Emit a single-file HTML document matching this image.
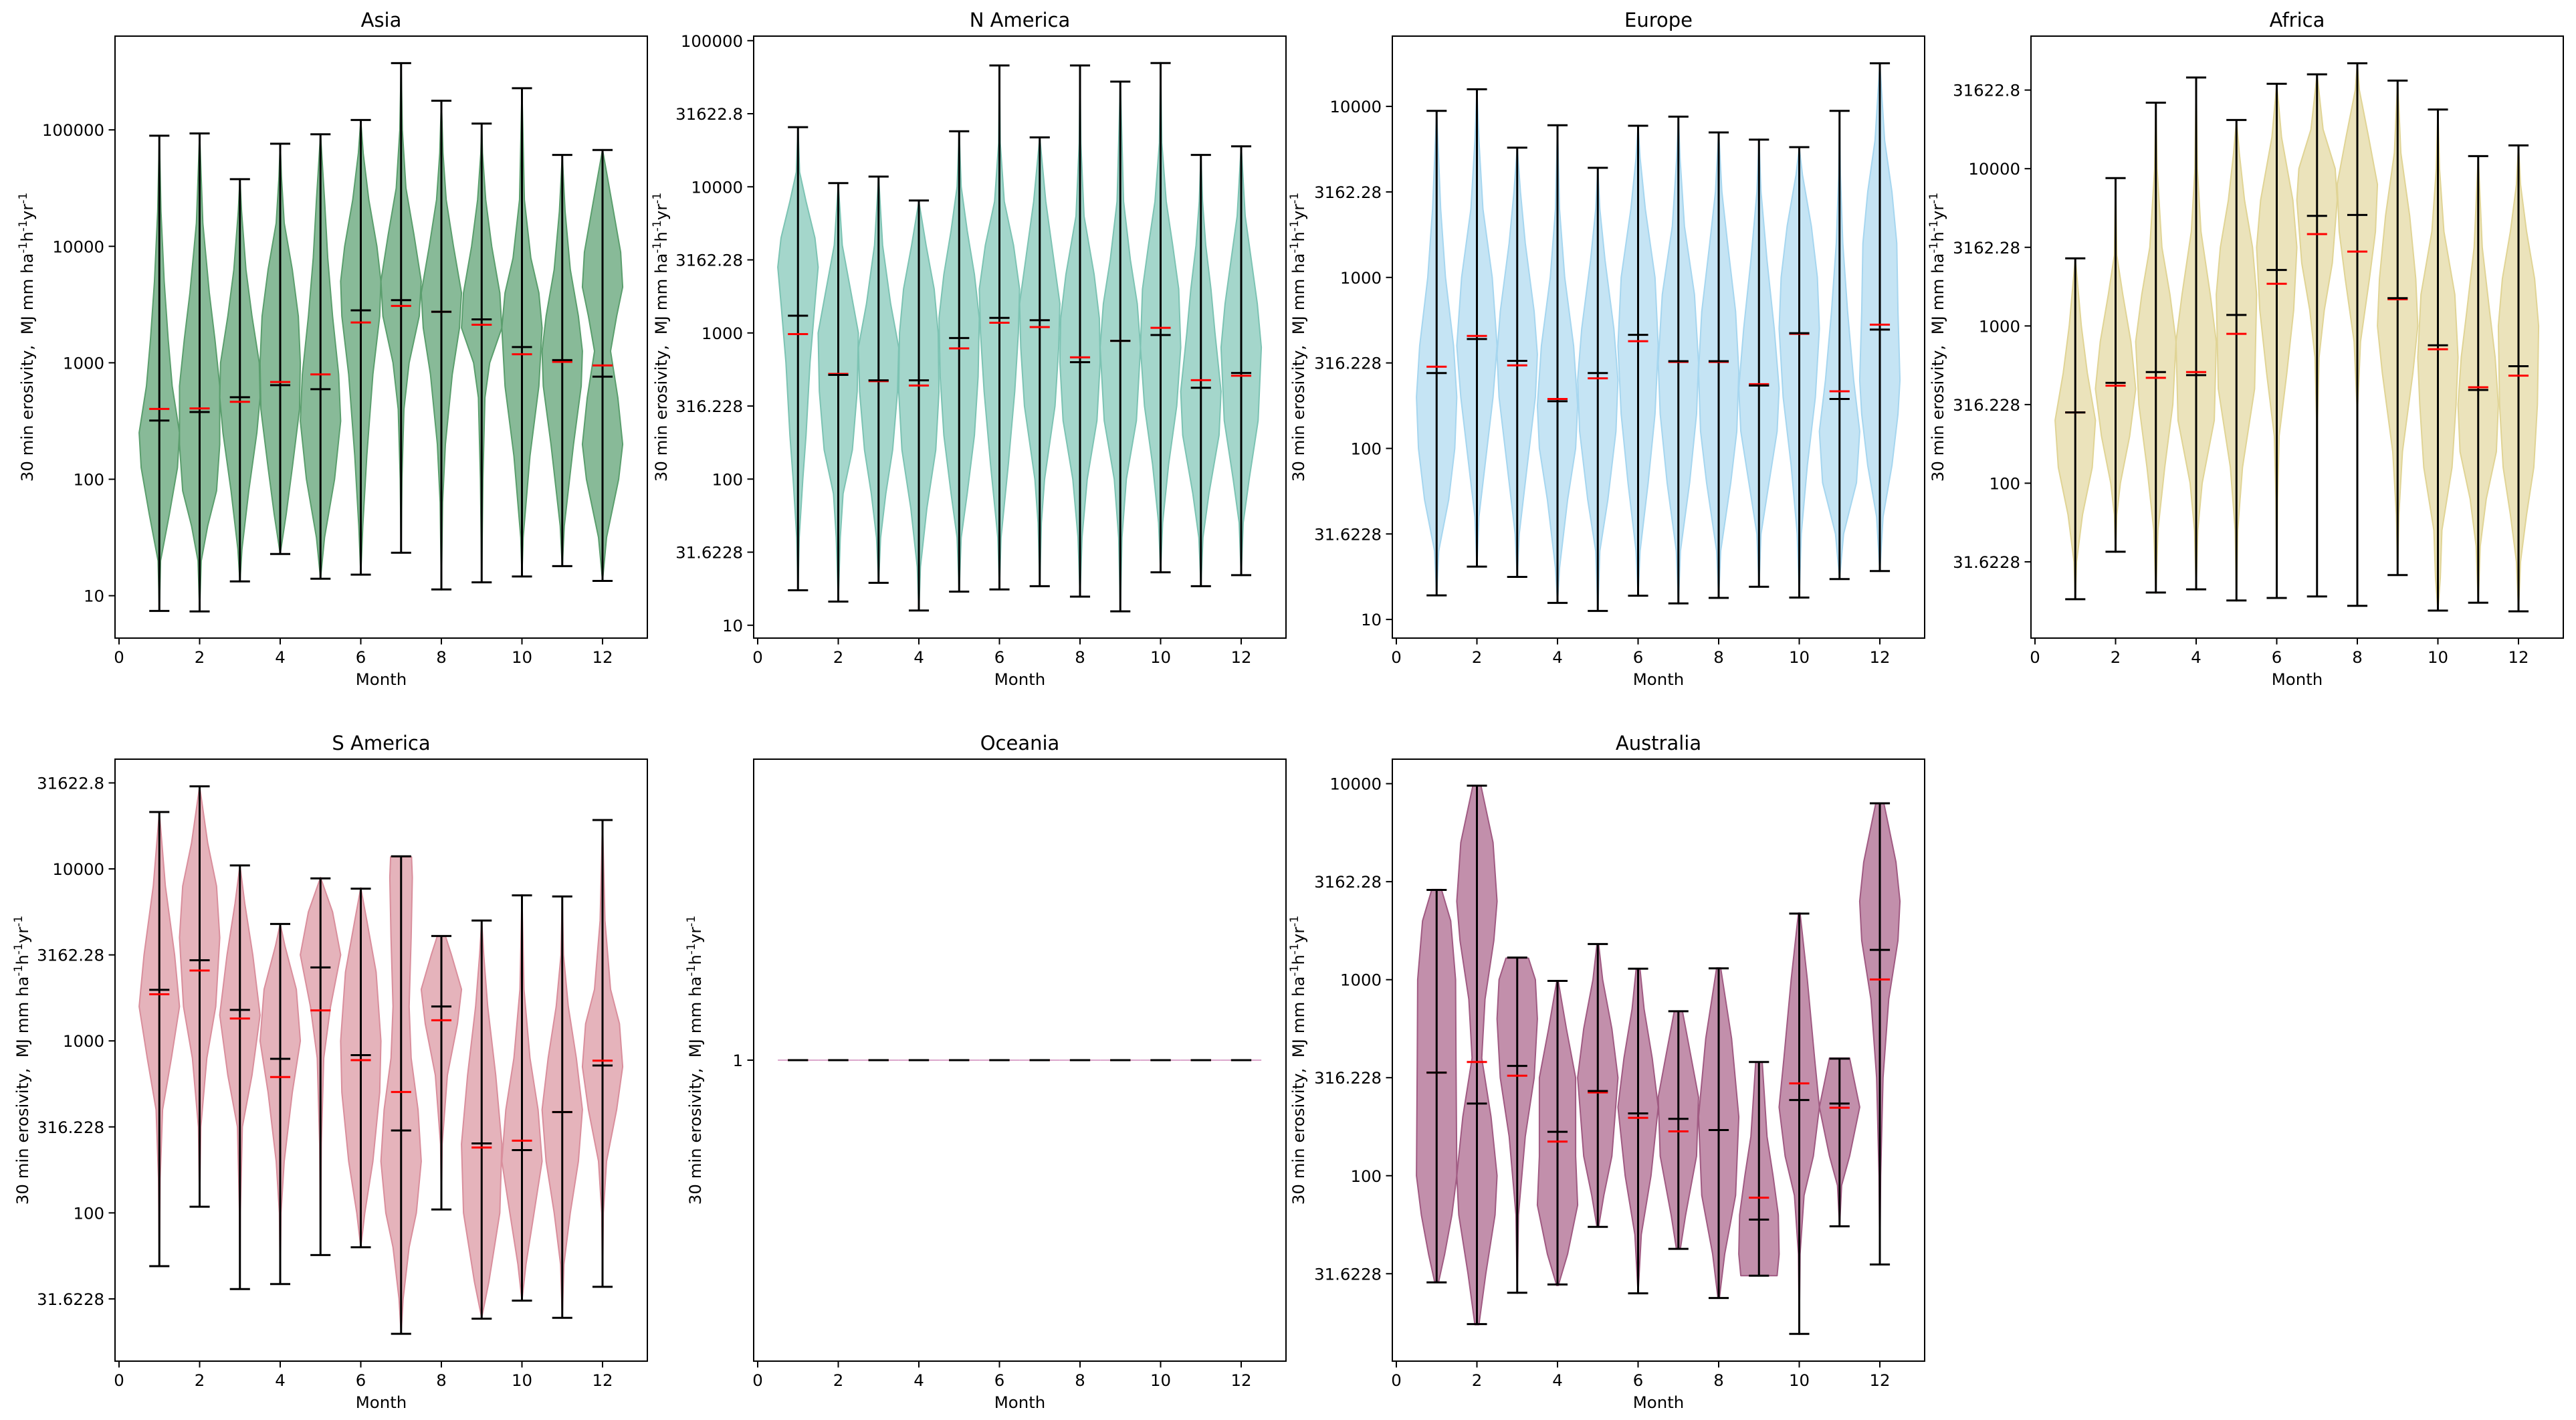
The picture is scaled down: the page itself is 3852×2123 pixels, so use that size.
<!DOCTYPE html>
<html><head><meta charset="utf-8"><title>Monthly 30 min erosivity by region</title>
<style>html,body{margin:0;padding:0;background:#fff;}svg{display:block;}</style></head>
<body>
<svg id="fig" xmlns="http://www.w3.org/2000/svg" width="3852" height="2123" viewBox="0 0 3852 2123" font-family="DejaVu Sans, Liberation Sans, sans-serif"></svg>
<script>
// ===== DATA (log10 of erosivity, MJ mm ha-1 h-1 yr-1) =====
const months = [1,2,3,4,5,6,7,8,9,10,11,12];
const xTickValues = [0,2,4,6,8,10,12];

const asiaMaxLog  = [4.95,4.969,4.577,4.881,4.962,5.085,5.573,5.25,5.054,5.358,4.785,4.827];
const asiaMinLog  = [0.869,0.865,1.123,1.358,1.146,1.181,1.369,1.054,1.115,1.165,1.254,1.127];
const asiaMedLog  = [2.504,2.577,2.704,2.808,2.773,3.45,3.538,3.438,3.373,3.135,3.023,2.881];
const asiaMeanLog = [2.604,2.608,2.665,2.835,2.9,3.346,3.488,3.438,3.327,3.073,3.008,2.977];
const asiaDensity = [
 [[0.87,0],[1.3,0.03],[1.7,0.25],[2.1,0.45],[2.4,0.5],[2.8,0.32],[3.2,0.22],[3.7,0.12],[4.3,0.04],[4.95,0]],
 [[0.87,0],[1.3,0.04],[1.6,0.2],[1.9,0.42],[2.3,0.5],[2.8,0.5],[3.2,0.38],[3.6,0.24],[4.2,0.08],[4.97,0]],
 [[1.12,0],[1.4,0.05],[1.9,0.22],[2.4,0.42],[2.7,0.5],[3.0,0.48],[3.4,0.3],[3.8,0.15],[4.3,0.04],[4.58,0]],
 [[1.36,0],[1.7,0.15],[2.1,0.3],[2.6,0.48],[3.0,0.5],[3.4,0.45],[3.8,0.3],[4.2,0.1],[4.6,0.03],[4.88,0]],
 [[1.15,0],[1.5,0.1],[2.0,0.35],[2.5,0.5],[2.9,0.45],[3.4,0.3],[3.9,0.18],[4.4,0.1],[4.96,0]],
 [[1.18,0],[1.6,0.05],[2.2,0.15],[2.9,0.3],[3.4,0.47],[3.7,0.5],[4.0,0.4],[4.4,0.2],[4.8,0.06],[5.08,0]],
 [[1.37,0],[2.0,0.02],[2.6,0.07],[3.0,0.2],[3.4,0.45],[3.7,0.5],[4.1,0.32],[4.5,0.12],[5.0,0.03],[5.57,0]],
 [[1.05,0],[1.8,0.03],[2.3,0.1],[2.9,0.27],[3.3,0.45],[3.6,0.5],[4.0,0.3],[4.4,0.12],[4.8,0.04],[5.25,0]],
 [[1.12,0],[2.0,0.03],[2.7,0.08],[3.0,0.2],[3.3,0.5],[3.6,0.45],[4.0,0.25],[4.4,0.1],[4.8,0.02],[5.05,0]],
 [[1.17,0],[1.5,0.03],[2.2,0.2],[2.8,0.42],[3.3,0.5],[3.6,0.42],[3.9,0.22],[4.4,0.06],[5.36,0]],
 [[1.25,0],[1.6,0.05],[2.3,0.28],[2.8,0.47],[3.1,0.5],[3.4,0.4],[3.8,0.2],[4.3,0.07],[4.78,0]],
 [[1.13,0],[1.5,0.1],[2.0,0.4],[2.3,0.5],[2.7,0.38],[3.1,0.2],[3.4,0.35],[3.65,0.5],[3.95,0.45],[4.4,0.22],[4.83,0]]
];
const asiaTickLogs = [1,2,3,4,5];
const asiaTickLabels = ["10","100","1000","10000","100000"];

const naMaxLog  = [4.408,4.025,4.07,3.906,4.38,4.83,4.338,4.83,4.72,4.847,4.218,4.277];
const naMinLog  = [1.239,1.162,1.29,1.101,1.23,1.245,1.267,1.196,1.095,1.362,1.267,1.343];
const naMedLog  = [3.118,2.713,2.676,2.676,2.965,3.103,3.087,2.8,2.946,2.986,2.625,2.726];
const naMeanLog = [2.992,2.72,2.67,2.64,2.894,3.07,3.04,2.833,2.946,3.035,2.677,2.707];
const naDensity = [
 [[1.24,0],[1.6,0.03],[2.0,0.12],[2.3,0.2],[2.8,0.3],[3.2,0.42],[3.45,0.5],[3.65,0.42],[3.9,0.2],[4.1,0.04],[4.41,0]],
 [[1.16,0],[1.6,0.05],[1.9,0.12],[2.2,0.35],[2.6,0.47],[3.0,0.5],[3.3,0.3],[3.6,0.1],[4.02,0]],
 [[1.29,0],[1.6,0.05],[1.9,0.18],[2.2,0.35],[2.6,0.47],[2.9,0.5],[3.2,0.3],[3.6,0.1],[4.07,0]],
 [[1.1,0],[1.4,0.04],[1.8,0.2],[2.2,0.42],[2.6,0.5],[3.0,0.48],[3.3,0.38],[3.6,0.18],[3.9,0]],
 [[1.23,0],[1.6,0.05],[1.9,0.2],[2.3,0.38],[2.7,0.47],[3.1,0.5],[3.4,0.38],[3.7,0.2],[4.0,0.05],[4.38,0]],
 [[1.25,0],[1.6,0.04],[2.1,0.22],[2.6,0.38],[3.0,0.47],[3.3,0.5],[3.6,0.35],[3.9,0.12],[4.3,0.02],[4.83,0]],
 [[1.27,0],[1.7,0.04],[2.0,0.12],[2.5,0.38],[2.9,0.47],[3.2,0.5],[3.5,0.35],[3.9,0.15],[4.34,0]],
 [[1.2,0],[1.6,0.05],[2.0,0.18],[2.4,0.42],[2.8,0.5],[3.1,0.48],[3.4,0.35],[3.8,0.1],[4.3,0.02],[4.83,0]],
 [[1.1,0],[1.6,0.04],[2.0,0.15],[2.4,0.4],[2.9,0.5],[3.2,0.42],[3.5,0.25],[3.9,0.08],[4.72,0]],
 [[1.36,0],[1.7,0.05],[2.1,0.2],[2.5,0.4],[2.9,0.5],[3.3,0.45],[3.6,0.3],[3.9,0.14],[4.3,0.03],[4.85,0]],
 [[1.27,0],[1.6,0.05],[1.9,0.2],[2.3,0.45],[2.6,0.5],[3.0,0.35],[3.3,0.25],[3.6,0.12],[3.9,0.04],[4.22,0]],
 [[1.34,0],[1.7,0.05],[2.0,0.2],[2.4,0.42],[2.9,0.5],[3.2,0.4],[3.5,0.25],[3.8,0.1],[4.28,0]]
];
const halfDecadeLogs = [1,1.5,2,2.5,3,3.5,4,4.5,5];
const halfDecadeLabels = ["10","31.6228","100","316.228","1000","3162.28","10000","31622.8","100000"];

const euMaxLog  = [3.974,4.1,3.759,3.89,3.641,3.887,3.94,3.848,3.806,3.762,3.974,4.252];
const euMinLog  = [1.141,1.309,1.249,1.097,1.05,1.139,1.094,1.126,1.191,1.128,1.236,1.283];
const euMedLog  = [2.441,2.64,2.512,2.276,2.441,2.664,2.51,2.51,2.368,2.674,2.289,2.695];
const euMeanLog = [2.478,2.658,2.486,2.289,2.41,2.627,2.506,2.506,2.376,2.67,2.334,2.724];
const euDensity = [
 [[1.14,0],[1.4,0.05],[1.7,0.3],[2.0,0.45],[2.3,0.5],[2.6,0.42],[3.0,0.22],[3.4,0.1],[3.8,0.03],[3.97,0]],
 [[1.31,0],[1.6,0.05],[2.0,0.25],[2.3,0.4],[2.6,0.5],[3.0,0.38],[3.4,0.15],[3.8,0.05],[4.1,0]],
 [[1.25,0],[1.5,0.05],[1.9,0.25],[2.3,0.45],[2.55,0.5],[2.8,0.42],[3.2,0.2],[3.5,0.08],[3.76,0]],
 [[1.1,0],[1.3,0.05],[1.7,0.25],[2.0,0.45],[2.25,0.5],[2.6,0.4],[3.0,0.18],[3.4,0.05],[3.89,0]],
 [[1.05,0],[1.4,0.05],[1.7,0.25],[2.1,0.45],[2.4,0.5],[2.7,0.4],[3.1,0.18],[3.4,0.05],[3.64,0]],
 [[1.14,0],[1.4,0.05],[1.8,0.25],[2.2,0.42],[2.6,0.5],[3.0,0.42],[3.4,0.18],[3.7,0.05],[3.89,0]],
 [[1.09,0],[1.4,0.05],[1.8,0.28],[2.2,0.45],[2.5,0.5],[2.9,0.4],[3.3,0.15],[3.7,0.04],[3.94,0]],
 [[1.13,0],[1.4,0.05],[1.8,0.3],[2.1,0.45],[2.45,0.5],[2.8,0.42],[3.2,0.22],[3.5,0.08],[3.85,0]],
 [[1.19,0],[1.5,0.05],[1.8,0.25],[2.1,0.45],[2.35,0.5],[2.7,0.38],[3.1,0.2],[3.5,0.05],[3.81,0]],
 [[1.13,0],[1.5,0.05],[1.9,0.2],[2.3,0.4],[2.7,0.5],[3.0,0.45],[3.3,0.3],[3.6,0.08],[3.76,0]],
 [[1.24,0],[1.5,0.1],[1.8,0.42],[2.1,0.5],[2.4,0.35],[2.8,0.2],[3.2,0.08],[3.6,0.02],[3.97,0]],
 [[1.28,0],[1.6,0.08],[1.9,0.3],[2.2,0.45],[2.4,0.5],[2.8,0.45],[3.2,0.42],[3.5,0.3],[3.8,0.12],[4.25,0]]
];

const afMaxLog  = [3.43,3.94,4.42,4.58,4.31,4.54,4.6,4.67,4.56,4.376,4.08,4.148];
const afMinLog  = [1.262,1.564,1.305,1.325,1.254,1.27,1.28,1.22,1.416,1.19,1.24,1.185];
const afMedLog  = [2.45,2.638,2.707,2.687,3.07,3.356,3.7,3.706,3.177,2.877,2.593,2.744];
const afMeanLog = [2.45,2.62,2.67,2.707,2.95,3.268,3.584,3.473,3.17,2.852,2.61,2.684];
const afDensity = [
 [[1.26,0],[1.5,0.03],[1.8,0.18],[2.1,0.42],[2.4,0.5],[2.7,0.3],[3.0,0.15],[3.43,0]],
 [[1.56,0],[1.8,0.03],[2.0,0.12],[2.3,0.35],[2.6,0.5],[2.9,0.38],[3.2,0.18],[3.45,0.03],[3.94,0]],
 [[1.3,0],[1.7,0.05],[2.1,0.22],[2.5,0.42],[2.9,0.5],[3.2,0.35],[3.5,0.15],[4.0,0.03],[4.42,0]],
 [[1.32,0],[1.7,0.04],[2.0,0.15],[2.4,0.45],[2.9,0.5],[3.2,0.35],[3.6,0.12],[4.0,0.03],[4.58,0]],
 [[1.25,0],[1.7,0.03],[2.1,0.15],[2.6,0.45],[3.2,0.5],[3.5,0.4],[3.8,0.2],[4.1,0.07],[4.31,0]],
 [[1.27,0],[1.9,0.02],[2.3,0.06],[2.7,0.25],[3.1,0.42],[3.5,0.5],[3.8,0.4],[4.2,0.12],[4.54,0]],
 [[1.28,0],[2.4,0.01],[2.8,0.05],[3.1,0.18],[3.4,0.38],[3.8,0.5],[4.0,0.45],[4.25,0.15],[4.6,0]],
 [[1.22,0],[2.5,0.01],[2.9,0.08],[3.3,0.3],[3.6,0.45],[3.9,0.5],[4.2,0.28],[4.5,0.05],[4.67,0]],
 [[1.42,0],[1.8,0.03],[2.2,0.12],[2.7,0.38],[3.0,0.5],[3.3,0.45],[3.7,0.3],[4.1,0.08],[4.56,0]],
 [[1.19,0],[1.4,0.06],[1.7,0.1],[2.1,0.35],[2.5,0.45],[2.8,0.5],[3.2,0.42],[3.6,0.15],[4.0,0.04],[4.38,0]],
 [[1.24,0],[1.6,0.05],[1.9,0.2],[2.2,0.45],[2.5,0.5],[2.8,0.42],[3.1,0.28],[3.5,0.1],[4.08,0]],
 [[1.19,0],[1.5,0.05],[1.8,0.2],[2.1,0.38],[2.5,0.47],[3.0,0.5],[3.3,0.4],[3.6,0.2],[3.9,0.05],[4.15,0]]
];

const saMaxLog  = [4.331,4.48,4.02,3.68,3.945,3.885,4.073,3.61,3.70,3.846,3.84,4.284];
const saMinLog  = [1.69,2.036,1.557,1.586,1.755,1.80,1.297,2.02,1.385,1.49,1.39,1.57];
const saMedLog  = [3.297,3.469,3.18,2.896,3.427,2.917,2.479,3.2,2.404,2.365,2.586,2.857];
const saMeanLog = [3.271,3.409,3.13,2.79,3.177,2.888,2.703,3.12,2.38,2.42,2.586,2.885];
const saDensity = [
 [[1.69,0],[2.2,0.02],[2.6,0.08],[2.9,0.3],[3.2,0.5],[3.5,0.38],[3.9,0.15],[4.33,0]],
 [[2.04,0],[2.5,0.03],[2.9,0.18],[3.2,0.4],[3.6,0.5],[3.9,0.42],[4.15,0.2],[4.48,0]],
 [[1.56,0],[2.0,0.01],[2.5,0.06],[2.8,0.3],[3.15,0.5],[3.5,0.32],[3.8,0.12],[4.02,0]],
 [[1.59,0],[2.0,0.02],[2.3,0.1],[2.7,0.3],[3.0,0.5],[3.3,0.4],[3.55,0.12],[3.68,0]],
 [[1.76,0],[2.4,0.02],[2.9,0.08],[3.2,0.25],[3.5,0.5],[3.75,0.3],[3.95,0]],
 [[1.8,0],[2.0,0.1],[2.3,0.3],[2.7,0.47],[3.0,0.5],[3.4,0.38],[3.7,0.15],[3.89,0]],
 [[1.3,0],[1.5,0.05],[1.8,0.2],[2.0,0.38],[2.3,0.5],[2.6,0.42],[2.9,0.25],[3.2,0.2],[3.6,0.25],[3.95,0.28],[4.07,0.26]],
 [[2.02,0],[2.4,0.02],[2.8,0.15],[3.1,0.4],[3.3,0.5],[3.5,0.25],[3.61,0.1]],
 [[1.39,0],[1.6,0.18],[2.0,0.45],[2.4,0.5],[2.8,0.35],[3.2,0.15],[3.5,0.05],[3.7,0]],
 [[1.49,0],[1.7,0.1],[2.0,0.3],[2.3,0.5],[2.6,0.4],[2.9,0.2],[3.3,0.05],[3.85,0]],
 [[1.39,0],[1.7,0.04],[2.0,0.2],[2.3,0.4],[2.6,0.5],[2.9,0.35],[3.2,0.15],[3.5,0.03],[3.84,0]],
 [[1.57,0],[2.0,0.02],[2.3,0.1],[2.6,0.35],[2.85,0.5],[3.1,0.42],[3.3,0.2],[3.7,0.06],[4.28,0]]
];

const ocMaxLog  = [0,0,0,0,0,0,0,0,0,0,0,0];
const ocMinLog  = [0,0,0,0,0,0,0,0,0,0,0,0];
const ocMedLog  = [0,0,0,0,0,0,0,0,0,0,0,0];
const ocMeanLog = [0,0,0,0,0,0,0,0,0,0,0,0];
const ocTickLogs = [0];
const ocTickLabels = ["1"];

const auMaxLog  = [3.458,3.99,3.113,2.994,3.182,3.056,2.839,3.058,2.58,3.337,2.597,3.9];
const auMinLog  = [1.456,1.243,1.403,1.445,1.739,1.4,1.627,1.376,1.49,1.193,1.742,1.547];
const auMedLog  = [2.526,2.368,2.56,2.224,2.432,2.318,2.29,2.233,1.776,2.386,2.368,3.152];
const auMeanLog = [2.526,2.58,2.51,2.174,2.425,2.295,2.226,2.233,1.888,2.471,2.347,3.001];
const auDensity = [
 [[1.46,0.05],[1.6,0.2],[1.8,0.38],[2.0,0.5],[2.6,0.48],[3.0,0.47],[3.3,0.35],[3.46,0.12]],
 [[1.24,0.05],[1.5,0.22],[1.8,0.45],[2.0,0.5],[2.3,0.35],[2.6,0.12],[2.9,0.2],[3.2,0.42],[3.4,0.5],[3.7,0.4],[3.99,0.1]],
 [[1.4,0],[1.8,0.03],[2.2,0.2],[2.5,0.42],[2.8,0.5],[3.0,0.45],[3.11,0.28]],
 [[1.44,0.02],[1.6,0.25],[1.85,0.5],[2.1,0.45],[2.5,0.45],[2.75,0.22],[2.99,0.02]],
 [[1.74,0.02],[1.9,0.15],[2.1,0.35],[2.5,0.5],[2.75,0.35],[3.0,0.12],[3.18,0.02]],
 [[1.4,0],[1.7,0.08],[2.0,0.32],[2.35,0.5],[2.6,0.35],[2.85,0.15],[3.05,0.05]],
 [[1.63,0.05],[1.8,0.18],[2.1,0.45],[2.4,0.5],[2.6,0.32],[2.84,0.1]],
 [[1.38,0.02],[1.6,0.15],[1.9,0.42],[2.3,0.5],[2.7,0.32],[3.06,0.05]],
 [[1.49,0.45],[1.6,0.5],[1.8,0.48],[2.0,0.35],[2.2,0.2],[2.58,0.08]],
 [[1.19,0],[1.6,0.02],[1.9,0.12],[2.1,0.35],[2.35,0.5],[2.6,0.38],[3.0,0.2],[3.34,0.02]],
 [[1.74,0],[1.95,0.05],[2.1,0.25],[2.35,0.5],[2.5,0.35],[2.6,0.25]],
 [[1.55,0],[2.0,0.02],[2.5,0.08],[2.9,0.22],[3.2,0.45],[3.4,0.5],[3.6,0.4],[3.8,0.2],[3.9,0.1]]
];

// ===== LAYOUT =====
const NS = "http://www.w3.org/2000/svg";
const svg = document.getElementById('fig');
const R1T = 54, R1B = 954, R2T = 1135, R2B = 2035, AW = 796;

const panels = [
 {key:'asia', title:'Asia', left:172, top:R1T, bottom:R1B, ylo:0.636, yhi:5.805, tl:asiaTickLogs, tlab:asiaTickLabels, fill:'#88ba98', edge:'#5a9e6d', lx:40,
  mx:asiaMaxLog, mn:asiaMinLog, md:asiaMedLog, me:asiaMeanLog, dens:asiaDensity},
 {key:'n-america', title:'N America', left:1127, top:R1T, bottom:R1B, ylo:0.912, yhi:5.031, tl:halfDecadeLogs, tlab:halfDecadeLabels, fill:'#a4d6cb', edge:'#7cc3b3', lx:988,
  mx:naMaxLog, mn:naMinLog, md:naMedLog, me:naMeanLog, dens:naDensity},
 {key:'europe', title:'Europe', left:2082, top:R1T, bottom:R1B, ylo:0.891, yhi:4.411, tl:halfDecadeLogs, tlab:halfDecadeLabels, fill:'#c5e4f4', edge:'#a6d6ef', lx:1941,
  mx:euMaxLog, mn:euMinLog, md:euMedLog, me:euMeanLog, dens:euDensity},
 {key:'africa', title:'Africa', left:3037, top:R1T, bottom:R1B, ylo:1.015, yhi:4.843, tl:halfDecadeLogs, tlab:halfDecadeLabels, fill:'#ebe3bb', edge:'#e0d495', lx:2897,
  mx:afMaxLog, mn:afMinLog, md:afMedLog, me:afMeanLog, dens:afDensity},
 {key:'s-america', title:'S America', left:172, top:R2T, bottom:R2B, ylo:1.138, yhi:4.638, tl:halfDecadeLogs, tlab:halfDecadeLabels, fill:'#e5b3bb', edge:'#d98e9c', lx:33,
  mx:saMaxLog, mn:saMinLog, md:saMedLog, me:saMeanLog, dens:saDensity},
 {key:'oceania', title:'Oceania', left:1127, top:R2T, bottom:R2B, ylo:-1, yhi:1, tl:ocTickLogs, tlab:ocTickLabels, fill:'#dba6cb', edge:'#dba6cb', lx:1039,
  mx:ocMaxLog, mn:ocMinLog, md:ocMedLog, me:ocMeanLog, dens:null},
 {key:'australia', title:'Australia', left:2082, top:R2T, bottom:R2B, ylo:1.054, yhi:4.125, tl:halfDecadeLogs, tlab:halfDecadeLabels, fill:'#c28fab', edge:'#a05a82', lx:1941,
  mx:auMaxLog, mn:auMinLog, md:auMedLog, me:auMeanLog, dens:auDensity}
];

function mk(tag, attrs, parent){
  const el = document.createElementNS(NS, tag);
  for (const k in attrs) el.setAttribute(k, attrs[k]);
  (parent || svg).appendChild(el);
  return el;
}

panels.forEach(p => {
  const g = mk('g', {});
  
  
  const xs = m => p.left + 6 + m * 60.25;
  const ys = v => p.bottom - (v - p.ylo) / (p.yhi - p.ylo) * (p.bottom - p.top);
  const ph = p.bottom - p.top;

  const t = mk('text', {x: p.left + AW/2, y: p.top - 14, 'text-anchor':'middle', 'font-size':29, fill:'#000'}, g);
  t.textContent = p.title;
  
  

  const vg = mk('g', {}, g);
  
  
  months.forEach((m, i) => {
    const cx = xs(m);
    if (p.dens) {
      const d = p.dens[i];
      let pts = [];
      d.forEach(q => pts.push((cx + q[1]*60.25).toFixed(1) + ',' + ys(q[0]).toFixed(1)));
      for (let k = d.length - 1; k >= 0; k--) pts.push((cx - d[k][1]*60.25).toFixed(1) + ',' + ys(d[k][0]).toFixed(1));
      const body = mk('polygon', {points: pts.join(' '), fill: p.fill, stroke: p.edge, 'stroke-width': 2, 'stroke-linejoin':'round'}, vg);
      
      
    } else {
      const body = mk('line', {x1: cx - 0.5*60.25, x2: cx + 0.5*60.25, y1: ys(p.md[i]), y2: ys(p.md[i]), stroke: p.fill, 'stroke-width': 2}, vg);
      
      
    }
  });
  months.forEach((m, i) => {
    const cx = xs(m), hw = 0.25*60.25;
    const bar = mk('line', {x1: cx, x2: cx, y1: ys(p.mn[i]), y2: ys(p.mx[i]), stroke:'#000', 'stroke-width':3}, vg);
    
    
    const cmax = mk('line', {x1: cx-hw, x2: cx+hw, y1: ys(p.mx[i]), y2: ys(p.mx[i]), stroke:'#000', 'stroke-width':3}, vg);
    
    
    const cmin = mk('line', {x1: cx-hw, x2: cx+hw, y1: ys(p.mn[i]), y2: ys(p.mn[i]), stroke:'#000', 'stroke-width':3}, vg);
    
    
    const cmean = mk('line', {x1: cx-hw, x2: cx+hw, y1: ys(p.me[i]), y2: ys(p.me[i]), stroke:'#ff0000', 'stroke-width':3}, vg);
    
    
    const cmed = mk('line', {x1: cx-hw, x2: cx+hw, y1: ys(p.md[i]), y2: ys(p.md[i]), stroke:'#000', 'stroke-width':3}, vg);
    
    
  });

  const fr = mk('rect', {x: p.left, y: p.top, width: AW, height: ph, fill:'none', stroke:'#000', 'stroke-width':2}, g);
  
  

  const xg = mk('g', {}, g);
  
  
  xTickValues.forEach(v => {
    const x = xs(v);
    mk('line', {x1:x, x2:x, y1:p.bottom, y2:p.bottom+9.5, stroke:'#000', 'stroke-width':2}, xg);
    const tl = mk('text', {x:x, y:p.bottom+37, 'text-anchor':'middle', 'font-size':24.4, fill:'#000'}, xg);
    tl.textContent = String(v);
    
    
  });
  const xt = mk('text', {x: p.left + AW/2, y: p.bottom + 70, 'text-anchor':'middle', 'font-size':24.4, fill:'#000'}, xg);
  xt.textContent = 'Month';
  
  

  const yg = mk('g', {}, g);
  
  
  p.tl.forEach((v, k) => {
    if (v < p.ylo || v > p.yhi) return;
    const y = ys(v);
    mk('line', {x1:p.left-9.5, x2:p.left, y1:y, y2:y, stroke:'#000', 'stroke-width':2}, yg);
    const tl = mk('text', {x:p.left-16, y:y+9, 'text-anchor':'end', 'font-size':24.4, fill:'#000'}, yg);
    tl.textContent = p.tlab[k];
    
    
  });
  const cy = (p.top + p.bottom)/2;
  const yl = mk('text', {x:0, y:0, 'text-anchor':'middle', 'font-size':24.4, fill:'#000', transform:'translate(' + (p.lx+9) + ',' + cy + ') rotate(-90)'}, yg);
  
  
  const parts = [['30 min erosivity,\u00a0 MJ mm ha', false], ['-1', true], ['h', false], ['-1', true], ['yr', false], ['-1', true]];
  parts.forEach((pt, idx) => {
    const ts = mk('tspan', pt[1] ? {'font-size':17, dy:-9} : {dy: idx > 0 ? 9 : 0}, yl);
    ts.textContent = pt[0];
  });
});
</script>
</body></html>
